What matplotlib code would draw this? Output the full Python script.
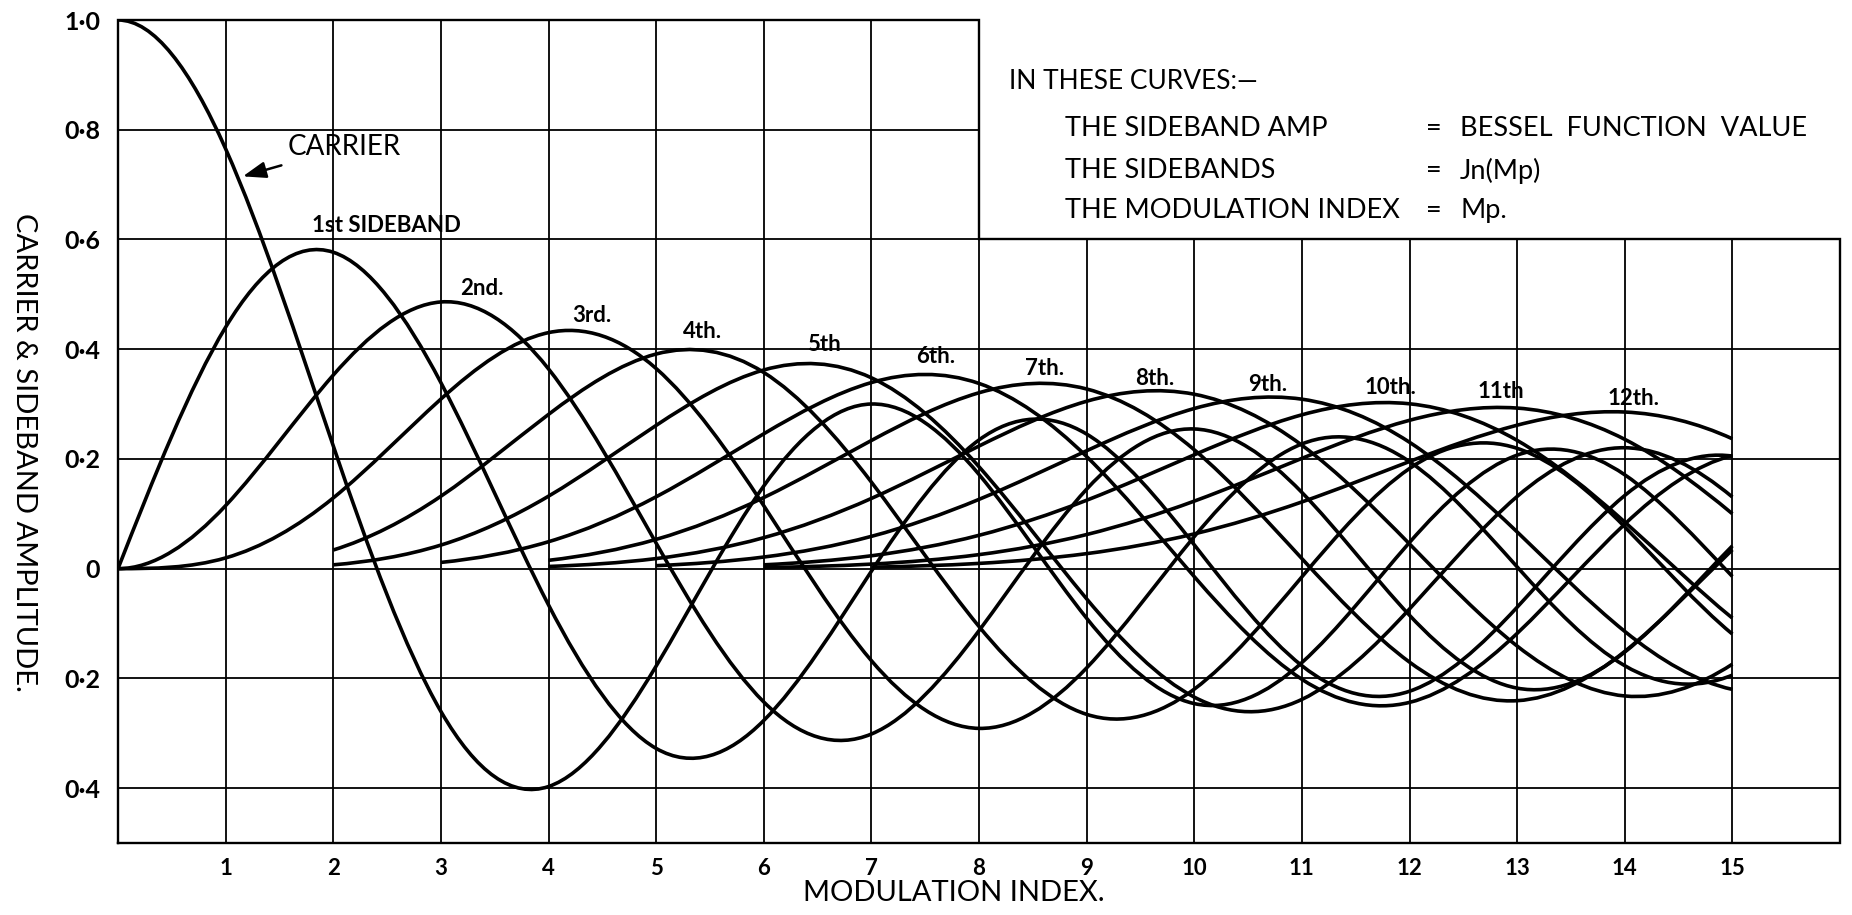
import matplotlib
matplotlib.use("Agg")
import matplotlib.pyplot as plt
from matplotlib.path import Path
from matplotlib.patches import PathPatch

plt.rcParams['font.family'] = ['Lato', 'DejaVu Sans']

# ---------------- data (carrier & sideband amplitudes) -------------
mod_index = [0, 1, 2, 3, 4, 5, 6, 7, 8, 9, 10, 11, 12, 13, 14, 15]

carrier = [1.0, 0.7652, 0.2239, -0.2601, -0.3971, -0.1776, 0.1506, 0.3001,
           0.1717, -0.0903, -0.2459, -0.1712, 0.0477, 0.2069, 0.1711, -0.0142]
sb1 = [0.0, 0.4401, 0.5767, 0.3391, -0.0660, -0.3276, -0.2767, -0.0047,
       0.2346, 0.2453, 0.0435, -0.1768, -0.2234, -0.0703, 0.1334, 0.2051]
sb2 = [0.0, 0.1149, 0.3528, 0.4861, 0.3641, 0.0466, -0.2429, -0.3014,
       -0.1130, 0.1448, 0.2546, 0.1390, -0.0849, -0.2177, -0.1520, 0.0416]
sb3 = [0.0, 0.0196, 0.1289, 0.3091, 0.4302, 0.3648, 0.1148, -0.1676,
       -0.2911, -0.1809, 0.0584, 0.2273, 0.1951, 0.0033, -0.1768, -0.1940]
sb4 = [0.0, 0.0025, 0.0340, 0.1320, 0.2811, 0.3912, 0.3576, 0.1578,
       -0.1054, -0.2655, -0.2196, -0.0150, 0.1825, 0.2193, 0.0762, -0.1192]
sb5 = [0.0, 0.0002, 0.0070, 0.0430, 0.1321, 0.2611, 0.3621, 0.3479,
       0.1858, -0.0550, -0.2341, -0.2383, -0.0735, 0.1316, 0.2204, 0.1305]
sb6 = [0.0, 0.0000, 0.0012, 0.0114, 0.0491, 0.1310, 0.2458, 0.3392,
       0.3376, 0.2043, -0.0145, -0.2016, -0.2437, -0.1180, 0.0812, 0.2061]
sb7 = [0.0, 0.0000, 0.0002, 0.0025, 0.0152, 0.0534, 0.1296, 0.2336,
       0.3206, 0.3275, 0.2167, 0.0184, -0.1703, -0.2406, -0.1508, 0.0345]
sb8 = [0.0, 0.0000, 0.0000, 0.0005, 0.0040, 0.0184, 0.0565, 0.1280,
       0.2235, 0.3051, 0.3179, 0.2250, 0.0451, -0.1410, -0.2320, -0.1740]
sb9 = [0.0, 0.0000, 0.0000, 0.0001, 0.0009, 0.0055, 0.0212, 0.0589,
       0.1263, 0.2149, 0.2919, 0.3089, 0.2304, 0.0670, -0.1143, -0.2200]
sb10 = [0.0, 0.0000, 0.0000, 0.0000, 0.0002, 0.0015, 0.0070, 0.0235,
        0.0608, 0.1247, 0.2075, 0.2804, 0.3005, 0.2338, 0.0850, -0.0901]
sb11 = [0.0, 0.0000, 0.0000, 0.0000, 0.0000, 0.0004, 0.0020, 0.0083,
        0.0256, 0.0622, 0.1231, 0.2010, 0.2704, 0.2927, 0.2357, 0.1000]
sb12 = [0.0, 0.0000, 0.0000, 0.0000, 0.0000, 0.0001, 0.0005, 0.0027,
        0.0096, 0.0274, 0.0634, 0.1216, 0.1953, 0.2615, 0.2855, 0.2367]
sb13 = [0.0, 0.0000, 0.0000, 0.0000, 0.0000, 0.0000, 0.0001, 0.0008,
        0.0033, 0.0108, 0.0290, 0.0643, 0.1201, 0.1901, 0.2536, 0.2787]  # only used for slopes

orders = [carrier, sb1, sb2, sb3, sb4, sb5, sb6, sb7, sb8, sb9, sb10, sb11, sb12]
# index where the draughtsman began each curve
curve_start = [0, 0, 0, 0, 2, 2, 3, 4, 4, 5, 6, 6, 7]

curve_labels = ["1st SIDEBAND", "2nd.", "3rd.", "4th.", "5th", "6th.", "7th.",
                "8th.", "9th.", "10th.", "11th", "12th."]
curve_label_pos = [(1.80, 0.625), (3.18, 0.51), (4.22, 0.462), (5.25, 0.433),
                   (6.40, 0.408), (7.42, 0.386), (8.43, 0.364), (9.45, 0.346),
                   (10.50, 0.336), (11.58, 0.330), (12.63, 0.322), (13.84, 0.310)]

y_ticks = [-0.4, -0.2, 0.0, 0.2, 0.4, 0.6, 0.8, 1.0]
y_tick_labels = ["0·4", "0·2", "0", "0·2", "0·4", "0·6", "0·8", "1·0"]
x_ticks = [1, 2, 3, 4, 5, 6, 7, 8, 9, 10, 11, 12, 13, 14, 15]
x_tick_labels = [str(v) for v in x_ticks]

# ---------------- figure ----------------
W, H = 1852, 915
fig = plt.figure(figsize=(W / 100, H / 100), dpi=100)
fig.patch.set_facecolor("white")
ax = fig.add_axes([118 / W, (H - 843) / H, (1840 - 118) / W, (843 - 20) / H])
ax.set_xlim(0, 16)
ax.set_ylim(-0.5, 1.0)
for s in ax.spines.values():
    s.set_visible(False)

box_x, box_y = 8.0, 0.6
grid_lw = 1.3
frame_lw = 1.7

# frame (irregular: notice panel top-right is left blank)
ax.plot([0, 0, box_x, box_x, 16, 16, 0], [-0.5, 1.0, 1.0, box_y, box_y, -0.5, -0.5],
        color="black", lw=frame_lw, solid_joinstyle="miter", clip_on=False, zorder=2)
# grid
for xv in x_ticks:
    top = 1.0 if xv < box_x else box_y
    ax.plot([xv, xv], [-0.5, top], color="black", lw=grid_lw, zorder=1)
for yv in y_ticks:
    right = box_x if yv > box_y + 1e-9 else 16
    ax.plot([0, right], [yv, yv], color="black", lw=grid_lw, zorder=1)

ax.set_xticks(x_ticks)
ax.set_xticklabels(x_tick_labels, fontsize=16, fontweight="bold")
ax.set_yticks(y_ticks)
ax.set_yticklabels(y_tick_labels, fontsize=18, fontweight="bold")
ax.tick_params(axis="both", length=0)
ax.tick_params(axis="x", pad=11)
ax.tick_params(axis="y", pad=13)

# curves: smooth cubic through the tabulated points (slopes from neighbouring orders)
ext = orders + [sb13]
for n, vals in enumerate(orders):
    if n == 0:
        slopes = [-v for v in sb1]
    else:
        slopes = [(a - b) / 2.0 for a, b in zip(ext[n - 1], ext[n + 1])]
    i0 = curve_start[n]
    verts = [(mod_index[i0], vals[i0])]
    codes = [Path.MOVETO]
    for i in range(i0, len(mod_index) - 1):
        h = mod_index[i + 1] - mod_index[i]
        verts += [(mod_index[i] + h / 3, vals[i] + h * slopes[i] / 3),
                  (mod_index[i + 1] - h / 3, vals[i + 1] - h * slopes[i + 1] / 3),
                  (mod_index[i + 1], vals[i + 1])]
        codes += [Path.CURVE4] * 3
    ax.add_patch(PathPatch(Path(verts, codes), facecolor="none", edgecolor="black",
                           lw=2.6, capstyle="butt", zorder=3))

# labels on curves
ax.annotate("CARRIER", xy=(1.16, 0.715), xytext=(1.58, 0.768),
            fontsize=20, va="center", ha="left",
            arrowprops=dict(arrowstyle="-|>,head_length=0.7,head_width=0.25",
                            color="black", lw=1.8, shrinkA=6, shrinkB=0))
for txt, (lx, ly) in zip(curve_labels, curve_label_pos):
    ax.text(lx, ly, txt, fontsize=16, fontweight="bold", va="center", ha="left")

# notice
ax.text(8.28, 0.888, "IN THESE CURVES:—", fontsize=19, va="center", ha="left")
rows = [("THE SIDEBAND AMP", "BESSEL  FUNCTION  VALUE", 0.803),
        ("THE SIDEBANDS", "Jn(Mp)", 0.725),
        ("THE MODULATION INDEX", "Mp.", 0.652)]
for left, right, yy in rows:
    ax.text(8.80, yy, left, fontsize=19.5, va="center", ha="left")
    ax.text(12.15, yy, "=", fontsize=19.5, va="center", ha="left")
    ax.text(12.47, yy, right, fontsize=19.5, va="center", ha="left")

fig.text(24 / W, (H - 452) / H, "CARRIER & SIDEBAND AMPLITUDE.", rotation=-90,
         ha="center", va="center", fontsize=21)
fig.text(954 / W, (H - 893) / H, "MODULATION INDEX.", ha="center", va="center",
         fontsize=21)

fig.savefig("out.png", dpi=100, facecolor="white")
